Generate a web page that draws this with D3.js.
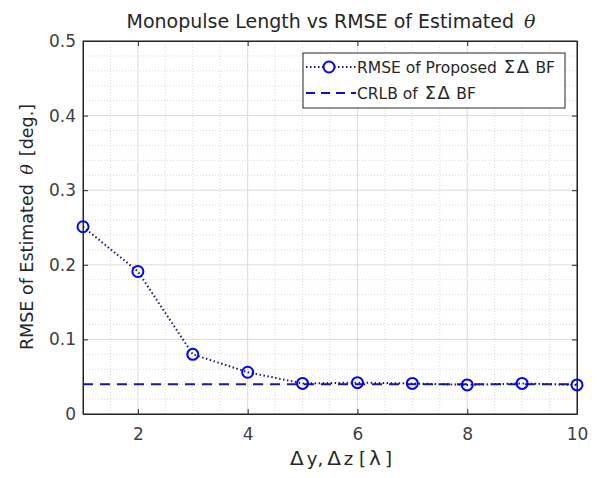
<!DOCTYPE html>
<html>
<head>
<meta charset="utf-8">
<script src="https://cdn.jsdelivr.net/npm/d3@7"></script>
<style>
  body { margin: 0; background: #fff; }
  text { font-family: "DejaVu Sans", sans-serif; fill: #262626; }
  .th { font-family: "DejaVu Serif"; font-style: italic; }
</style>
</head>
<body>
<div id="chart"></div>
<script>
// data
var lengths = [1, 2, 3, 4, 5, 6, 7, 8, 9, 10];
var rmse = [0.251, 0.191, 0.080, 0.056, 0.041, 0.042, 0.041, 0.039, 0.041, 0.039];
var crlb = 0.04;
var xTicks = [2, 4, 6, 8, 10];
var yTicks = [0, 0.1, 0.2, 0.3, 0.4, 0.5];
var yTickLabels = ["0", "0.1", "0.2", "0.3", "0.4", "0.5"];

var W = 599, H = 478;
var margin = { top: 41, right: 22, bottom: 64, left: 83 };
var width = W - margin.left - margin.right,
    height = H - margin.top - margin.bottom;

var svg = d3.select("#chart").append("svg")
    .attr("width", W).attr("height", H);
var g = svg.append("g")
    .attr("transform", "translate(" + margin.left + "," + margin.top + ")");

var x = d3.scaleLinear().domain([1, 10]).range([0, width]);
var y = d3.scaleLinear().domain([0, 0.5]).range([height, 0]);

// minor grid
g.selectAll(".minorx").data(d3.range(1.5, 10, 0.5).filter(function(d) { return d % 2 != 0; }))
  .enter().append("line")
  .attr("x1", function(d) { return x(d); }).attr("x2", function(d) { return x(d); })
  .attr("y1", 0).attr("y2", height)
  .style("stroke", "#d8d8d8").style("stroke-dasharray", "1,2");
g.selectAll(".minory").data(d3.range(0.02, 0.5, 0.02).filter(function(d) { return Math.round(d * 100) % 10 != 0; }))
  .enter().append("line")
  .attr("x1", 0).attr("x2", width)
  .attr("y1", function(d) { return y(d); }).attr("y2", function(d) { return y(d); })
  .style("stroke", "#d8d8d8").style("stroke-dasharray", "1,2");

// major grid
g.selectAll(".majorx").data(xTicks).enter().append("line")
  .attr("x1", function(d) { return x(d); }).attr("x2", function(d) { return x(d); })
  .attr("y1", 0).attr("y2", height)
  .style("stroke", "#dcdcdc");
g.selectAll(".majory").data(yTicks).enter().append("line")
  .attr("x1", 0).attr("x2", width)
  .attr("y1", function(d) { return y(d); }).attr("y2", function(d) { return y(d); })
  .style("stroke", "#dcdcdc");

// axes (ticks inside, MATLAB style)
var xAxis = d3.axisBottom(x).tickValues(xTicks).tickSizeInner(-5).tickSizeOuter(0).tickPadding(14);
var yAxis = d3.axisLeft(y).tickValues(yTicks).tickSizeInner(-5).tickSizeOuter(0).tickPadding(7)
  .tickFormat(function(d, i) { return yTickLabels[i]; });

var gx = g.append("g").attr("transform", "translate(0," + height + ")").call(xAxis);
var gy = g.append("g").call(yAxis);
g.append("g").call(d3.axisTop(x).tickValues(xTicks).tickSizeInner(-5).tickSizeOuter(0).tickFormat(""));
g.append("g").attr("transform", "translate(" + width + ",0)")
  .call(d3.axisRight(y).tickValues(yTicks).tickSizeInner(-5).tickSizeOuter(0).tickFormat(""));
g.selectAll(".domain").style("stroke", "#262626");
g.selectAll(".tick line").style("stroke", "#262626");
g.selectAll(".tick text").style("font-size", "17px").style("fill", "#404040")
  .style("font-family", "DejaVu Sans, sans-serif");
g.append("rect").attr("width", width).attr("height", height)
  .style("fill", "none").style("stroke", "#262626");

// CRLB line
g.append("line")
  .attr("x1", x(1)).attr("x2", x(10))
  .attr("y1", y(crlb)).attr("y2", y(crlb))
  .style("stroke", "#1a1a96").style("stroke-width", 2).style("stroke-dasharray", "10,7");

// RMSE line
var line = d3.line().x(function(d, i) { return x(lengths[i]); }).y(function(d) { return y(d); });
g.append("path").datum(rmse)
  .attr("d", line)
  .style("fill", "none").style("stroke", "#1a1a7a").style("stroke-width", 2)
  .style("stroke-dasharray", "1.5,2.5");
g.selectAll(".pt").data(rmse).enter().append("circle")
  .attr("cx", function(d, i) { return x(lengths[i]); })
  .attr("cy", function(d) { return y(d); })
  .attr("r", 5.5)
  .style("fill", "none").style("stroke", "#0000ff").style("stroke-width", 2);

// legend
var lg = svg.append("g").attr("transform", "translate(303,53)");
lg.append("rect").attr("width", 262).attr("height", 55)
  .style("fill", "#fff").style("stroke", "#262626");
lg.append("line").attr("x1", 3).attr("x2", 53).attr("y1", 14).attr("y2", 14)
  .style("stroke", "#1a1a7a").style("stroke-width", 2).style("stroke-dasharray", "1.5,2.5");
lg.append("circle").attr("cx", 26).attr("cy", 14).attr("r", 5.5)
  .style("fill", "#fff").style("stroke", "#0000ff").style("stroke-width", 2);
lg.append("line").attr("x1", 3).attr("x2", 53).attr("y1", 40).attr("y2", 40)
  .style("stroke", "#1010c0").style("stroke-width", 2).style("stroke-dasharray", "9,6");
// Greek letters are full width in the original font: draw them a bit larger
lg.append("text").attr("x", 54).attr("y", 20).style("font-size", "15.5px")
  .html('RMSE of Proposed <tspan dx="2" font-size="18" letter-spacing="1.5">ΣΔ</tspan><tspan> BF</tspan>');
lg.append("text").attr("x", 54).attr("y", 46).style("font-size", "15.5px")
  .html('CRLB of <tspan dx="2" font-size="18" letter-spacing="1.5">ΣΔ</tspan><tspan> BF</tspan>');

// title and axis labels
svg.append("text").attr("x", 331).attr("y", 28).style("text-anchor", "middle")
  .style("font-size", "19px")
  .html('Monopulse Length vs RMSE of Estimated <tspan class="th" dx="4">θ</tspan>');
svg.append("text").attr("x", 341).attr("y", 465).style("text-anchor", "middle")
  .style("font-size", "18px")
  .html('<tspan font-size="20" letter-spacing="3">Δ</tspan>y,<tspan dx="4" font-size="20" letter-spacing="3">Δ</tspan>z [<tspan dx="3" font-size="20" letter-spacing="4">λ</tspan>]');
svg.append("text").attr("transform", "translate(33,227) rotate(-90)").style("text-anchor", "middle")
  .style("font-size", "17.5px")
  .html('RMSE of Estimated <tspan class="th" dx="4" letter-spacing="8">θ</tspan>[deg.]');
</script>
</body>
</html>
